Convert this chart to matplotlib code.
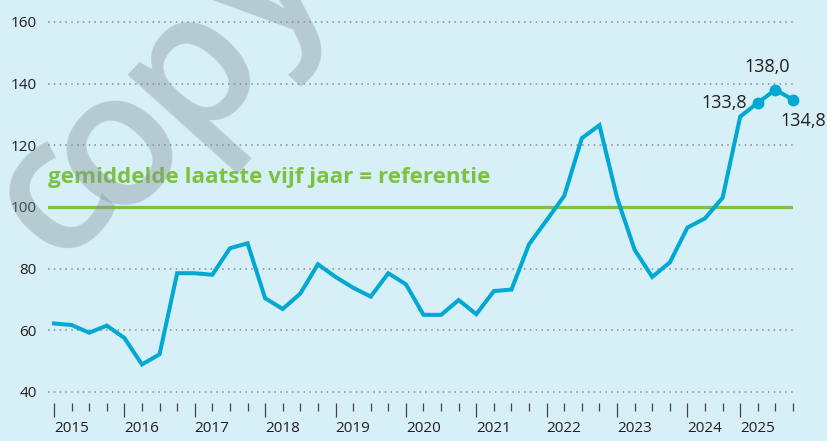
import matplotlib
matplotlib.use("Agg")
import matplotlib.pyplot as plt
from matplotlib.ticker import FixedLocator

plt.rcParams['font.family'] = ['Open Sans', 'DejaVu Sans']

# quarterly index, 2015 Q1 .. 2025 Q3
values = [62.2, 61.7, 59.2, 61.5,
          57.5, 48.9, 52.2, 78.5,
          78.5, 78.0, 86.6, 88.2,
          70.4, 66.9, 71.9, 81.4,
          77.3, 73.8, 70.9, 78.5,
          74.9, 65.0, 65.0, 69.8,
          65.2, 72.7, 73.2, 87.9,
          95.7, 103.6, 122.3, 126.5,
          103.0, 86.1, 77.3, 82.0,
          93.3, 96.3, 103.0, 129.3,
          133.8, 138.0, 134.8]
quarters = list(range(len(values)))
years = ['2015', '2016', '2017', '2018', '2019', '2020',
         '2021', '2022', '2023', '2024', '2025']
year_ticks = [0, 4, 8, 12, 16, 20, 24, 28, 32, 36, 39]
labelled = [40, 41, 42]
label_texts = ['133,8', '138,0', '134,8']
reference = 100
yticks = [40, 60, 80, 100, 120, 140, 160]

bg = '#d7eff7'
blue = '#00a9d3'
green = '#7dc142'
dark = '#231f20'

fig = plt.figure(figsize=(8.28, 4.41), dpi=100, facecolor=bg)
ax = fig.add_axes([48/828, 38/441, 745/828, 387.2/441], facecolor=bg)

for v in yticks:
    if v != reference:
        ax.axhline(v, color='#8a8a8a', lw=1.1, ls=(0, (1, 2.8)), zorder=1)
ax.axhline(reference, color=green, lw=2.3, zorder=2)
ax.text(-0.34, 107.8, 'gemiddelde laatste vijf jaar = referentie', color=green,
        fontsize=16.1, fontweight='bold', ha='left', va='baseline')

ax.plot(quarters, values, color=blue, lw=2.9, solid_joinstyle='miter',
        zorder=3, clip_on=False)
ax.plot([quarters[i] for i in labelled], [values[i] for i in labelled], 'o',
        color=blue, ms=7.5, zorder=4, clip_on=False)

offsets = [(-8, 0, 'right', 'center'), (-6, 10, 'center', 'bottom'), (-9, -9, 'left', 'top')]
for i, txt, (dx, dy, ha, va) in zip(labelled, label_texts, offsets):
    ax.annotate(txt, (quarters[i], values[i]), xytext=(dx, dy),
                textcoords='offset points', ha=ha, va=va, fontsize=13,
                color=dark, annotation_clip=False)

ax.set_xlim(-0.34, 42)
ax.set_ylim(36.4, 162)
ax.set_yticks(yticks)
ax.set_yticklabels([str(v) for v in yticks])
ax.tick_params(axis='y', length=0, pad=8, labelsize=11, labelcolor=dark)

ax.xaxis.set_major_locator(FixedLocator(year_ticks))
ax.set_xticklabels(years)
ax.xaxis.set_minor_locator(FixedLocator([q for q in quarters if q not in year_ticks]))
ax.tick_params(axis='x', which='major', length=10, width=0.9, color='#444444',
               pad=3, labelsize=11, labelcolor=dark)
ax.tick_params(axis='x', which='minor', length=6, width=0.9, color='#444444')
for lab in ax.get_xticklabels():
    lab.set_ha('left')

for s in ax.spines.values():
    s.set_visible(False)

# watermark, letter by letter along a rotated baseline (pixel positions)
wm_pos = [(90, 230), (155, 180), (228, 100), (300, 22)]
for ch, (px, py) in zip('copy', wm_pos):
    fig.text(px/828, 1 - py/441, ch, rotation=48, rotation_mode='anchor',
             ha='center', va='baseline', fontsize=136, fontweight='semibold',
             color=(0.51, 0.57, 0.59), alpha=0.39)

fig.savefig('out.png', dpi=100, facecolor=bg)
